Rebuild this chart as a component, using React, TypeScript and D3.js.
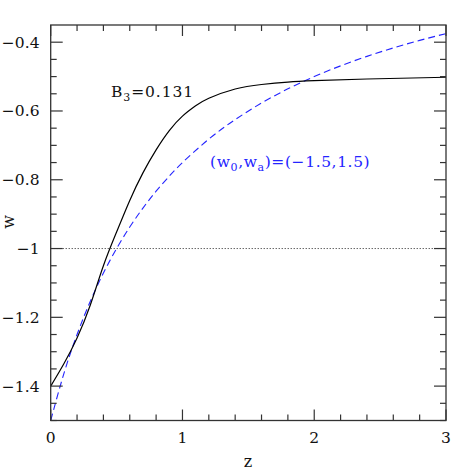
import React from "react";
import * as d3 from "d3";

const zBlack = [0, 0.1, 0.2, 0.3, 0.4, 0.5, 0.6, 0.7, 0.8, 0.9, 1.0, 1.1, 1.2, 1.4, 1.6, 1.8, 2.0, 2.4, 3.0];
const wBlack = [-1.4, -1.335, -1.26, -1.165, -1.05, -0.952, -0.86, -0.78, -0.713, -0.657, -0.615, -0.585, -0.563, -0.536, -0.523, -0.516, -0.512, -0.507, -0.502];

const zBlue = [0, 0.1, 0.2, 0.3, 0.4, 0.5, 0.6, 0.7, 0.8, 0.9, 1.0, 1.2, 1.4, 1.6, 1.8, 2.0, 2.2, 2.4, 2.6, 2.8, 3.0];
const wBlue = [-1.5, -1.3636, -1.25, -1.1538, -1.0714, -1.0, -0.9375, -0.8824, -0.8333, -0.7895, -0.75, -0.6818, -0.625, -0.5769, -0.5357, -0.5, -0.4688, -0.4412, -0.4167, -0.3947, -0.375];

const xMajor = [0, 1, 2, 3];
const xTickLabels = ["0", "1", "2", "3"];
const yMajor = [-1.4, -1.2, -1, -0.8, -0.6, -0.4];
const yTickLabels = ["\u22121.4", "\u22121.2", "\u22121", "\u22120.8", "\u22120.6", "\u22120.4"];
const refLine = -1;

const W = 471, H = 471;
const L = 50.7, R = 446, T = 25, B = 420.5;
const FONT = "'DejaVu Serif', serif";
const AXC = "#333";

export default function App() {
  const x = d3.scaleLinear().domain([0, 3]).range([L, R]);
  const y = d3.scaleLinear().domain([-1.5, -0.35]).range([B, T]);
  const line = d3.line<[number, number]>().x(d => x(d[0])).y(d => y(d[1])).curve(d3.curveNatural);
  const black = zBlack.map((z, i) => [z, wBlack[i]] as [number, number]);
  const blue = zBlue.map((z, i) => [z, wBlue[i]] as [number, number]);

  const xMinor = d3.range(0, 3.0001, 0.2).filter(v => Math.abs(v - Math.round(v)) > 1e-6);
  const yMinor = d3.range(-1.5, -0.35, 0.05).filter(v => !yMajor.some(m => Math.abs(m - v) < 1e-6));

  return (
    <svg width={W} height={H} style={{ position: "absolute", left: 0, top: 0 }}>
      <rect width={W} height={H} fill="#fff" />
      <line x1={x(0)} x2={x(3)} y1={y(refLine)} y2={y(refLine)} stroke="#222" strokeWidth={1} strokeDasharray="1,2" />
      <path d={line(blue) || ""} fill="none" stroke="#2424ff" strokeWidth={1.1} strokeDasharray="7,4" />
      <path d={line(black) || ""} fill="none" stroke="#000" strokeWidth={1.2} />
      <rect x={L} y={T} width={R - L} height={B - T} fill="none" stroke={AXC} strokeWidth={1.3} />
      {xMajor.map(v => (
        <g key={"xm" + v}>
          <line x1={x(v)} x2={x(v)} y1={B} y2={B - 11} stroke={AXC} strokeWidth={1.2} />
          <line x1={x(v)} x2={x(v)} y1={T} y2={T + 11} stroke={AXC} strokeWidth={1.2} />
        </g>
      ))}
      {xMinor.map(v => (
        <g key={"xn" + v}>
          <line x1={x(v)} x2={x(v)} y1={B} y2={B - 6} stroke={AXC} strokeWidth={1.2} />
          <line x1={x(v)} x2={x(v)} y1={T} y2={T + 6} stroke={AXC} strokeWidth={1.2} />
        </g>
      ))}
      {yMajor.map(v => (
        <g key={"ym" + v}>
          <line x1={L} x2={L + 12} y1={y(v)} y2={y(v)} stroke={AXC} strokeWidth={1.2} />
          <line x1={R} x2={R - 12} y1={y(v)} y2={y(v)} stroke={AXC} strokeWidth={1.2} />
        </g>
      ))}
      {yMinor.map(v => (
        <g key={"yn" + v}>
          <line x1={L} x2={L + 6} y1={y(v)} y2={y(v)} stroke={AXC} strokeWidth={1.2} />
          <line x1={R} x2={R - 6} y1={y(v)} y2={y(v)} stroke={AXC} strokeWidth={1.2} />
        </g>
      ))}
      {xMajor.map((v, i) => (
        <text key={"xl" + v} x={x(v)} y={443} textAnchor="middle" fontFamily={FONT} fontSize={15.5} fill="#111">{xTickLabels[i]}</text>
      ))}
      {yMajor.map((v, i) => (
        <text key={"yl" + v} x={39.5} y={y(v) + 5.5} textAnchor="end" fontFamily={FONT} fontSize={15.5} fill="#111">{yTickLabels[i]}</text>
      ))}
      <text x={248} y={467} textAnchor="middle" fontFamily={FONT} fontSize={16} fill="#111">z</text>
      <text transform="translate(13.5,222) rotate(-90)" textAnchor="middle" fontFamily={FONT} fontSize={16} fill="#111">w</text>
      <text x={111} y={97} fontFamily={FONT} fontSize={15.5} letterSpacing={0.9} fill="#111">
        B<tspan fontSize={11} dy={4}>3</tspan><tspan dy={-4}>=0.131</tspan>
      </text>
      <text x={210} y={166.5} fontFamily={FONT} fontSize={15.5} letterSpacing={0.6} fill="#2424ff">
        (w<tspan fontSize={11} dy={4}>0</tspan><tspan dy={-4}>,w</tspan><tspan fontSize={11} dy={4}>a</tspan><tspan dy={-4}>)=(−1.5,1.5)</tspan>
      </text>
    </svg>
  );
}
